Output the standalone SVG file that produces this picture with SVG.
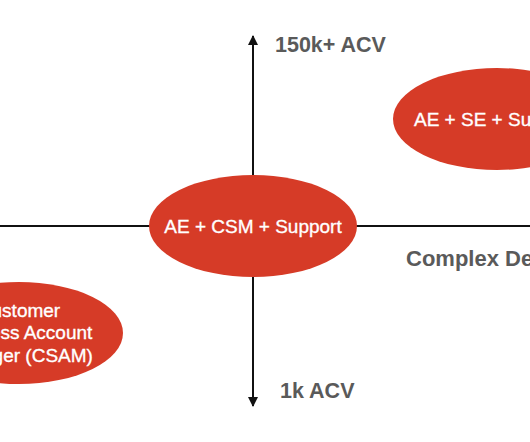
<svg xmlns="http://www.w3.org/2000/svg" width="530" height="442" viewBox="0 0 530 442">
<style>
.node ellipse{fill:#D63B27}
.node text{fill:#ffffff;stroke:#ffffff;stroke-width:0.35;font-family:"Liberation Sans",Arial,sans-serif;font-size:19px;text-anchor:middle}
.axis{stroke:#111;stroke-width:2;fill:none}
.label{fill:#5a5a5a;font-family:"Liberation Sans",Arial,sans-serif;font-size:21.5px;font-weight:bold}
</style>
<defs>
<marker id="ah" viewBox="0 0 10 10" refX="9" refY="5" markerWidth="5" markerHeight="5" orient="auto-start-reverse" markerUnits="strokeWidth">
<path d="M0,0 L10,5 L0,10 Z" fill="#111"/>
</marker>
</defs>
<rect width="530" height="442" fill="#ffffff"/>
<g id="connectors">
<line class="axis" x1="0" y1="226" x2="530" y2="226"/>
<line class="axis" x1="253" y1="36" x2="253" y2="406" marker-start="url(#ah)" marker-end="url(#ah)"/>
</g>
<g id="node-center" class="node">
<ellipse cx="253" cy="226" rx="104" ry="51"/>
<text x="253" y="233">AE + CSM + Support</text>
</g>
<g id="node-topright" class="node">
<ellipse cx="497" cy="119" rx="104" ry="51"/>
<text x="414" y="126" style="text-anchor:start">AE + SE + Support</text>
</g>
<g id="node-bottomleft" class="node">
<ellipse cx="19" cy="333" rx="104" ry="51"/>
<text x="19" y="317">Customer</text>
<text x="20" y="339">Success Account</text>
<text x="19" y="362">Manager (CSAM)</text>
</g>
<g id="labels">
<text class="label" x="275" y="52">150k+ ACV</text>
<text class="label" x="280" y="398">1k ACV</text>
<text class="label" x="406" y="266" style="font-size:22px">Complex Deals</text>
</g>
</svg>
